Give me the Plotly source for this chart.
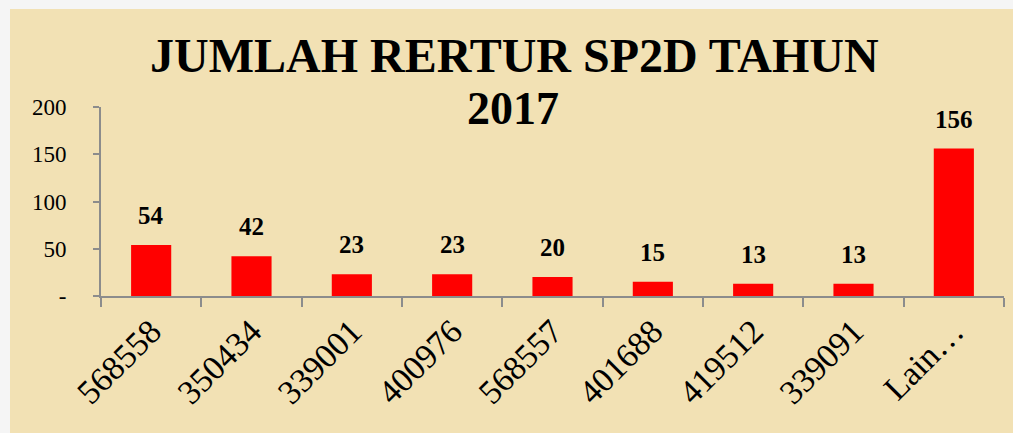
import plotly.graph_objects as go

categories = ["568558", "350434", "339001", "400976", "568557", "401688", "419512", "339091", "Lain…"]
values = [54, 42, 23, 23, 20, 15, 13, 13, 156]
ytick_vals = [0, 50, 100, 150, 200]
ytick_text = ["-", "50", "100", "150", "200"]
title_lines = ["JUMLAH RERTUR SP2D TAHUN", "2017"]

BG = "#F2E1B4"
OUT = "#F5F5F5"
AX = "#8C8C8C"
FONT = "Liberation Serif"

W, H = 1013, 433
L, R, T, B = 101, 9, 107, 137
PW, PH = W - L - R, H - T - B


def px_x(p):
    return (p - L) / PW


def px_y(p):
    return (H - B - p) / PH


fig = go.Figure()
fig.add_trace(go.Bar(x=categories, y=values, marker_color="#FF0000", marker_line_width=0))

for i, v in enumerate(values):
    fig.add_annotation(x=i, y=v, text=f"<b>{v}</b>", showarrow=False, yanchor="bottom",
                       yshift=14, font=dict(family=FONT, size=25, color="black"))

fig.add_annotation(xref="paper", yref="paper", x=px_x(514), y=px_y(55), text=f"<b>{title_lines[0]}</b>",
                   showarrow=False, xanchor="center", yanchor="middle",
                   font=dict(family=FONT, size=48, color="black"))
fig.add_annotation(xref="paper", yref="paper", x=px_x(513), y=px_y(108), text=f"<b>{title_lines[1]}</b>",
                   showarrow=False, xanchor="center", yanchor="middle",
                   font=dict(family=FONT, size=46, color="black"))

fig.add_shape(type="rect", xref="paper", yref="paper", x0=px_x(10), x1=px_x(W + 5),
              y0=px_y(H + 5), y1=px_y(9), fillcolor=BG, line_width=0, layer="below")

fig.update_layout(
    width=W, height=H,
    paper_bgcolor=OUT, plot_bgcolor="rgba(0,0,0,0)",
    margin=dict(l=L, r=R, t=T, b=B, autoexpand=False),
    bargap=0.6,
    showlegend=False,
    font=dict(family=FONT, color="black"),
)
fig.update_xaxes(type="category", range=[-0.5, len(categories) - 0.5], showline=True, linecolor=AX,
                 linewidth=2, ticks="outside", tickcolor=AX,
                 tickwidth=2, ticklen=9, tickson="boundaries", tickangle=-45,
                 tickfont=dict(family=FONT, size=34, color="black"), showgrid=False)
fig.update_yaxes(range=[0, 200], tickvals=ytick_vals, ticktext=ytick_text, showline=True,
                 linecolor=AX, linewidth=2, ticks="outside", tickcolor=AX, tickwidth=2, ticklen=6,
                 ticklabelstandoff=22, tickfont=dict(family=FONT, size=23, color="black"),
                 showgrid=False, zeroline=False)

fig.write_html("out.html", config={"displayModeBar": False},
               post_script="document.body.style.margin='0';document.body.style.overflow='hidden';")
